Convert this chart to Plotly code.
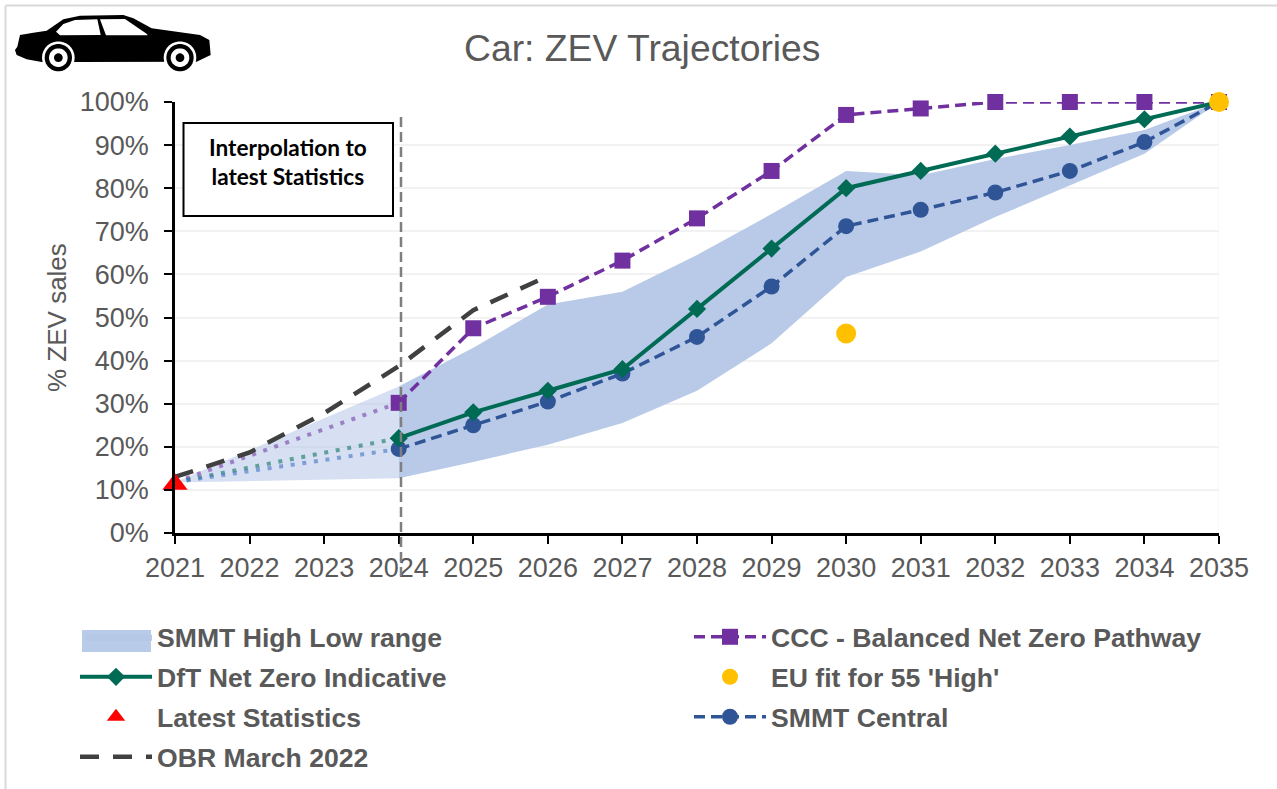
import math
import plotly.graph_objects as go

years_interp = [2021, 2024]
years_main = list(range(2024, 2036))
years_obr = [2021, 2022, 2023, 2024, 2025, 2026]

range_high_interp = [11.8, 34]
range_low_interp = [11.7, 12.7]
range_high = [34, 43, 53, 56, 64.5, 74, 84, 83, 86.8, 90, 93.5, 100]
range_low = [12.7, 16.5, 20.5, 25.5, 33, 44, 59.4, 65.3, 73.3, 80.7, 88, 100]
ccc = [30.2, 47.5, 54.8, 63.2, 73, 84, 97, 98.5, 100, 100, 100, 100]
dft = [22, 28, 33, 38, 52, 66, 80, 84, 88, 92, 96, 100]
smmt = [19.5, 25, 30.5, 37, 45.5, 57.2, 71.2, 75, 79, 84, 90.7, 100]
obr = [13, 18.7, 27.8, 38.7, 51.7, 59.6]
ccc_dots = [11.8, 30.2]
dft_dots = [11.8, 22]
smmt_dots = [11.8, 19.5]
latest_x, latest_y = [2021], [11.3]
eu_x, eu_y = [2030, 2035], [46.3, 100]

PURPLE, GREEN, BLUE, DARK = "#7030A0", "#006B54", "#2F5597", "#404040"
GREY = "#595959"
W, H = 1277, 789
L, R, T, B = 175, 1219, 102, 533
fx = lambda p: (p - L) / (R - L)
fy = lambda p: (B - p) / (B - T)


def pt(x, y):
    return f"{fx(x):.5f},{fy(y):.5f}"


def poly(points):
    return "M" + " L".join(pt(x / 3, y / 3) for x, y in points) + " Z"


def circle(cx, cy, r):
    n = 30
    return poly([(cx + r * math.cos(2 * math.pi * i / n), cy + r * math.sin(2 * math.pi * i / n)) for i in range(n)])


fig = go.Figure()
fig.add_trace(go.Scatter(x=years_interp + years_interp[::-1], y=range_high_interp + range_low_interp[::-1],
                         fill="toself", fillcolor="rgba(180,199,231,0.55)", line=dict(width=0),
                         mode="lines", showlegend=False, hoverinfo="skip"))
fig.add_trace(go.Scatter(x=years_main + years_main[::-1], y=range_high + range_low[::-1], name="SMMT High Low range",
                         fill="toself", fillcolor="rgba(180,199,231,0.95)", line=dict(width=0), mode="lines",
                         legend="legend3"))
for d, c in ((ccc_dots, "rgba(112,48,160,0.55)"), (dft_dots, "rgba(0,107,84,0.55)"), (smmt_dots, "rgba(68,114,196,0.6)")):
    fig.add_trace(go.Scatter(x=years_interp, y=d, mode="lines", line=dict(color=c, width=4, dash="4px,7.7px"),
                             showlegend=False, hoverinfo="skip"))
fig.add_trace(go.Scatter(x=years_obr, y=obr, name="OBR March 2022", mode="lines", legend="legend", legendrank=3,
                         legendgroup="o", line=dict(color=DARK, width=4.5, dash="19px,14px")))
fig.add_trace(go.Scatter(x=years_main, y=ccc, name="CCC - Balanced Net Zero Pathway", mode="lines+markers",
                         legend="legend2", legendrank=1, legendgroup="c",
                         line=dict(color=PURPLE, width=3.5, dash="11px,6px"),
                         marker=dict(symbol="square", size=16, color=PURPLE)))
fig.add_trace(go.Scatter(x=years_main, y=smmt, name="SMMT Central", mode="lines+markers", legend="legend2",
                         legendrank=3, legendgroup="s", line=dict(color=BLUE, width=3.5, dash="11px,6px"),
                         marker=dict(symbol="circle", size=16, color=BLUE)))
fig.add_trace(go.Scatter(x=years_main, y=dft, name="DfT Net Zero Indicative", mode="lines+markers", legend="legend",
                         legendrank=1, legendgroup="d", line=dict(color=GREEN, width=4),
                         marker=dict(symbol="diamond", size=14, color=GREEN)))
fig.add_trace(go.Scatter(x=eu_x, y=eu_y, name="EU fit for 55 'High'", mode="markers", legend="legend2",
                         legendrank=2, legendgroup="e", marker=dict(symbol="circle", size=20, color="#FFC000")))
fig.add_trace(go.Scatter(x=latest_x, y=latest_y, name="Latest Statistics", mode="markers", legend="legend",
                         legendrank=2, legendgroup="l", marker=dict(symbol="triangle-up", size=22, color="#FF0000")))

shapes = [
    dict(type="line", xref="paper", yref="paper", x0=fx(5.5), x1=fx(5.5), y0=fy(5.5), y1=fy(789),
         line=dict(color="#D9D9D9", width=2)),
    dict(type="line", xref="paper", yref="paper", x0=fx(5.5), x1=fx(1277), y0=fy(5.5), y1=fy(5.5),
         line=dict(color="#D9D9D9", width=2)),
    dict(type="line", xref="x", yref="paper", x0=2035, x1=2035, y0=0, y1=1, line=dict(color="#F2F2F2", width=1), layer="below"),
    dict(type="line", xref="paper", yref="paper", x0=fx(401), x1=fx(401), y0=fy(117), y1=fy(576),
         line=dict(color="#7F7F7F", width=2.5, dash="10px,5px")),
    dict(type="rect", xref="paper", yref="paper", x0=fx(183.5), x1=fx(393), y0=fy(123), y1=fy(216),
         line=dict(color="#000000", width=2), fillcolor="#FFFFFF"),
    dict(type="rect", xref="paper", yref="paper", x0=fx(82), x1=fx(151), y0=fy(630), y1=fy(652),
         line=dict(width=0), fillcolor="#B8CBE8"),
]
body = [(45, 150), (52, 140), (60, 105), (100, 98), (140, 92), (165, 75), (190, 58), (240, 47), (370, 45), (400, 55),
        (455, 85), (530, 95), (600, 105), (628, 120), (632, 165), (590, 185), (225, 186), (125, 186), (80, 178), (50, 165)]
win1 = [(168, 95), (190, 72), (225, 60), (292, 58), (302, 105), (180, 106)]
win2 = [(300, 58), (375, 57), (442, 103), (442, 106), (318, 106)]
for p, col in ((body, "#000000"), (win1, "#FFFFFF"), (win2, "#FFFFFF")):
    shapes.append(dict(type="path", xref="paper", yref="paper", path=poly(p), fillcolor=col, line=dict(width=0)))
for cx in (175, 540):
    for r, col in ((49, "#FFFFFF"), (41, "#000000"), (28, "#FFFFFF"), (13, "#000000")):
        shapes.append(dict(type="path", xref="paper", yref="paper", path=circle(cx, 173, r), fillcolor=col, line=dict(width=0)))

annotations = [
    dict(xref="paper", yref="paper", x=fx(288), y=fy(162), xanchor="center", yanchor="middle", showarrow=False,
         align="center", text="<b>Interpolation to<br>latest Statistics</b>",
         font=dict(family="Lato", size=22.6, color="#000000")),
    dict(xref="paper", yref="paper", x=fx(642), y=fy(48), xanchor="center", yanchor="middle", showarrow=False,
         text="Car: ZEV Trajectories", font=dict(family="Liberation Sans", size=37.3, color=GREY)),
    dict(xref="paper", yref="paper", x=fx(57), y=fy(318), xanchor="center", yanchor="middle", showarrow=False,
         textangle=-90, text="% ZEV sales", font=dict(family="Liberation Sans", size=26, color=GREY)),
]


def legend_at(px, py, itemwidth=72):
    return dict(x=px / W, y=1 - py / H, xref="container", yref="container", xanchor="left", yanchor="top",
                bgcolor="rgba(0,0,0,0)", itemwidth=itemwidth, tracegroupgap=2.4, itemclick=False,
                traceorder="grouped", font=dict(family="Liberation Sans", size=26.6, color=GREY, weight="bold"))


fig.update_layout(
    width=W, height=H, autosize=False,
    margin=dict(l=L, r=W - R, t=T, b=H - B, pad=0, autoexpand=False),
    paper_bgcolor="white", plot_bgcolor="white",
    font=dict(family="Liberation Sans", color=GREY),
    shapes=shapes, annotations=annotations,
    xaxis=dict(range=[2021, 2035], tickmode="linear", tick0=2021, dtick=1, showgrid=False, ticklabelstandoff=1,
               showline=True, linecolor="#000000", linewidth=2.5, ticks="outside", ticklen=8, tickwidth=2,
               tickcolor="#000000", tickfont=dict(size=27, color=GREY), zeroline=False),
    yaxis=dict(range=[0, 100], tickmode="linear", tick0=0, dtick=10, ticksuffix="%", showgrid=True, ticklabelstandoff=10,
               gridcolor="#F2F2F2", gridwidth=2, showline=True, linecolor="#000000", linewidth=2.5, ticks="outside",
               ticklen=8, tickwidth=2, tickcolor="#000000", tickfont=dict(size=27, color=GREY), zeroline=False),
    legend=legend_at(75, 653),
    legend2=legend_at(689, 613),
    legend3=legend_at(81, 613, itemwidth=66),
    showlegend=True,
)
for t in fig.data:
    t.cliponaxis = False

fig.write_html("out.html", config=dict(displayModeBar=False),
               post_script="document.body.style.margin='0';document.body.style.overflow='hidden';")
